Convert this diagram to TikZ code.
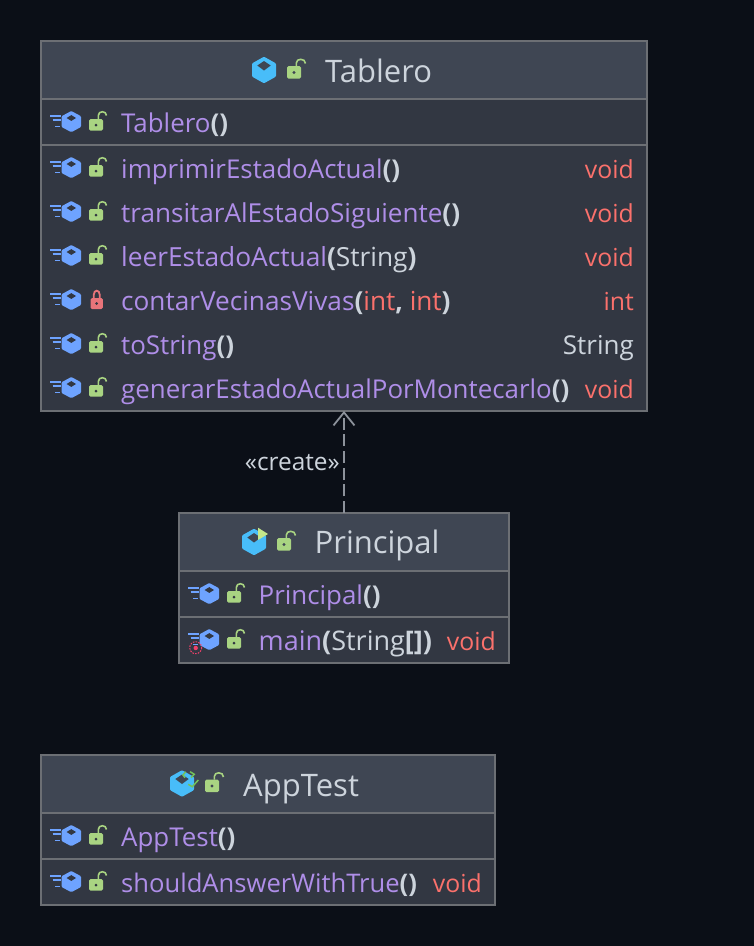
\documentclass[tikz,border=0pt]{standalone}
\usepackage{fontspec}
\setmainfont{Open Sans}
\usetikzlibrary{arrows.meta}
\definecolor{bgc}{HTML}{0B0F17}
\definecolor{headc}{HTML}{3F4653}
\definecolor{bodyc}{HTML}{323742}
\definecolor{edgec}{HTML}{6C6F74}
\definecolor{purplec}{HTML}{AF8EE8}
\definecolor{inkc}{HTML}{CDD4DC}
\definecolor{redc}{HTML}{FB716C}
\definecolor{cubec}{HTML}{48BDF9}
\definecolor{methc}{HTML}{6EA3FF}
\definecolor{lockc}{HTML}{A9D482}
\definecolor{lockred}{HTML}{E8747A}
\definecolor{playc}{HTML}{C5E88A}
\definecolor{pinkc}{HTML}{F0406A}
\definecolor{depc}{HTML}{8D929B}
\definecolor{checkc}{HTML}{74C25A}
\tikzset{
  classbox/.style={draw=edgec,line width=1.5pt,anchor=north west,inner sep=0pt,outer sep=0pt},
  sepline/.style={draw=edgec,line width=2pt},
  titletext/.style={anchor=base west,inner sep=0pt,text=inkc,font=\fontsize{31}{36}\selectfont},
  rowtext/.style={anchor=base west,inner sep=0pt,text=purplec,font=\fontsize{25.9}{30}\selectfont},
  rettext/.style={anchor=base east,inner sep=0pt,font=\fontsize{24.8}{30}\selectfont},
  deparrow/.style={draw=depc,line width=2pt,dash pattern=on 12pt off 4.7pt,
    -{Straight Barb[length=13pt,width=21pt,line width=1.8pt]}},
}
\newcommand{\pn}[1]{{\color{inkc}\bfseries #1}}
\newcommand{\plainink}[1]{{\color{inkc}#1}}
\newcommand{\rd}[1]{{\color{redc}#1}}
% base of a method row: stripes and cube, #1 box left, #2 row y
\newcommand{\rowcube}[2]{%
  \begin{scope}[shift={(#1,#2)}]
    \draw[methc,line width=1.7pt] (9,-7) -- (19.5,-7) (11.7,-3) -- (19.5,-3) (14,3.5) -- (18.5,3.5);
    \fill[methc,rounded corners=1pt] (30.3,-12) -- (40,-6.8) -- (40,4) -- (30.3,9.2) -- (20.6,4) -- (20.6,-6.8) -- cycle;
    \fill[bodyc] (25.6,-5) -- (30.3,-7.9) -- (35,-5) -- (30.3,-2.1) -- cycle;
  \end{scope}}
% open lock row: #1 box left, #2 row y
\newcommand{\rowicons}[2]{%
  \rowcube{#1}{#2}
  \begin{scope}[shift={(#1,#2)}]
    \begin{scope}[shift={(48,-4)}]
      \fill[lockc,rounded corners=1.5pt] (0,0) rectangle (14,11.7);
      \draw[lockc,line width=1.6pt] (9.3,0) -- (9.3,-3.5) .. controls (9.3,-8.5) and (17.5,-8.5) .. (17.5,-3.5);
      \fill[bodyc] (7,6) circle (1.5);
    \end{scope}
  \end{scope}}
% closed lock row
\newcommand{\rowiconsclosed}[2]{%
  \rowcube{#1}{#2}
  \begin{scope}[shift={(#1,#2)}]
    \fill[lockred,rounded corners=1.5pt] (49.5,-3) rectangle (61.8,8);
    \draw[lockred,line width=1.8pt] (52.7,-3) -- (52.7,-6) .. controls (52.7,-11.7) and (58.8,-11.7) .. (58.8,-6) -- (58.8,-3);
    \fill[bodyc] (55.7,2.5) circle (1.5);
  \end{scope}}
% class cube: #1 x, #2 y
\newcommand{\classcube}[2]{%
  \begin{scope}[shift={(#1,#2)}]
    \fill[cubec,rounded corners=1pt] (0,-13.3) -- (12,-6.6) -- (12,6.6) -- (0,13.3) -- (-12,6.6) -- (-12,-6.6) -- cycle;
    \fill[headc] (-6.7,-4.5) -- (0,-9) -- (6.7,-4.5) -- (0,0.5) -- cycle;
    \begin{scope}[shift={(23,-4)}]
      \fill[lockc,rounded corners=1.5pt] (0,0) rectangle (14,12.7);
      \draw[lockc,line width=1.6pt] (9.3,0) -- (9.3,-3) .. controls (9.3,-8) and (18.5,-8) .. (18.5,-2.5);
      \fill[headc] (7,6.5) circle (1.6);
    \end{scope}
  \end{scope}}
\begin{document}
\begin{tikzpicture}[x=1pt,y=-1pt]
\useasboundingbox (0,0) rectangle (754,946);
\fill[bgc] (0,0) rectangle (754,946);

% ---- Tablero
\fill[bodyc] (41,41) rectangle (647,411);
\fill[headc] (41,41) rectangle (647,99);
\draw[sepline] (41,99) -- (647,99);
\draw[sepline] (41,145) -- (647,145);
\node[classbox,minimum width=606pt,minimum height=370pt] (tablero) at (41,41) {};
\classcube{264}{70}
\node[titletext] (tabTitle) at (325,82) {Tablero};
\rowicons{41}{123}
\node[rowtext] (tabA) at (121,132) {Tablero\pn{()}};
\rowicons{41}{169}
\node[rowtext] (tabB) at (121,178) {imprimirEstadoActual\pn{()}};
\node[rettext,text=redc] (tabBr) at (634,178) {void};
\rowicons{41}{213}
\node[rowtext,font=\fontsize{26.1}{30}\selectfont] (tabC) at (121,222) {transitarAlEstadoSiguiente\pn{()}};
\node[rettext,text=redc] (tabCr) at (634,222) {void};
\rowicons{41}{257}
\node[rowtext,font=\fontsize{26.3}{30}\selectfont] (tabD) at (121,266) {leerEstadoActual\pn{(}\plainink{String}\pn{)}};
\node[rettext,text=redc] (tabDr) at (634,266) {void};
\rowiconsclosed{41}{301}
\node[rowtext,font=\fontsize{26.2}{30}\selectfont] (tabE) at (121,310) {contarVecinasVivas\pn{(}\rd{int}\pn{,} \rd{int}\pn{)}};
\node[rettext,text=redc] (tabEr) at (634,310) {int};
\rowicons{41}{345}
\node[rowtext] (tabF) at (121,354) {toString\pn{()}};
\node[rettext,text=inkc,font=\fontsize{26}{30}\selectfont] (tabFr) at (634,354) {String};
\rowicons{41}{389}
\node[rowtext] (tabG) at (121,398) {generarEstadoActualPorMontecarlo\pn{()}};
\node[rettext,text=redc] (tabGr) at (634,398) {void};

% ---- Principal
\fill[bodyc] (179,513) rectangle (509,663);
\fill[headc] (179,513) rectangle (509,571);
\draw[sepline] (179,571) -- (509,571);
\draw[sepline] (179,617) -- (509,617);
\node[classbox,minimum width=330pt,minimum height=150pt] (principal) at (179,513) {};
\classcube{254}{542}
\fill[playc] (258,527.7) -- (268,534) -- (258,540) -- cycle;
\node[titletext] (priTitle) at (314.5,553) {Principal};
\rowicons{179}{595}
\node[rowtext] (priA) at (258.5,604) {Principal\pn{()}};
\rowicons{179}{641}
\draw[pinkc,line width=1pt,dash pattern=on 1.6pt off 1.2pt] (195.7,647.7) circle (6);
\fill[pinkc] (195.7,648) circle (2.2);
\node[rowtext,font=\fontsize{27}{30}\selectfont] (priB) at (258.5,650) {main\pn{(}\plainink{String}\pn{[])}};
\node[rettext,text=redc] (priBr) at (496,650) {void};

% ---- AppTest
\fill[bodyc] (41,755) rectangle (495,905);
\fill[headc] (41,755) rectangle (495,813);
\draw[sepline] (41,813) -- (495,813);
\draw[sepline] (41,859) -- (495,859);
\node[classbox,minimum width=454pt,minimum height=150pt] (apptest) at (41,755) {};
\classcube{182}{783.5}
\draw[checkc,line width=1.5pt] (185.7,771.7) -- (183,775) -- (185,777.7)
  (190,771.7) -- (194.3,774.3) -- (191,777.7)
  (188.3,784.3) -- (192.3,786.7) -- (198.3,780);
\node[titletext] (appTitle) at (243,796) {AppTest};
\rowicons{41}{837}
\node[rowtext] (appA) at (121,846) {AppTest\pn{()}};
\rowicons{41}{883}
\node[rowtext,font=\fontsize{25.6}{30}\selectfont] (appB) at (121,892) {shouldAnswerWithTrue\pn{()}};
\node[rettext,text=redc] (appBr) at (482,892) {void};

% ---- connector
\draw[deparrow] (principal.north) -- (tablero.south);
\node[anchor=base east,inner sep=0pt,text=inkc,font=\fontsize{24.4}{28}\selectfont] (createLabel) at (340,470) {«create»};
\end{tikzpicture}
\end{document}
